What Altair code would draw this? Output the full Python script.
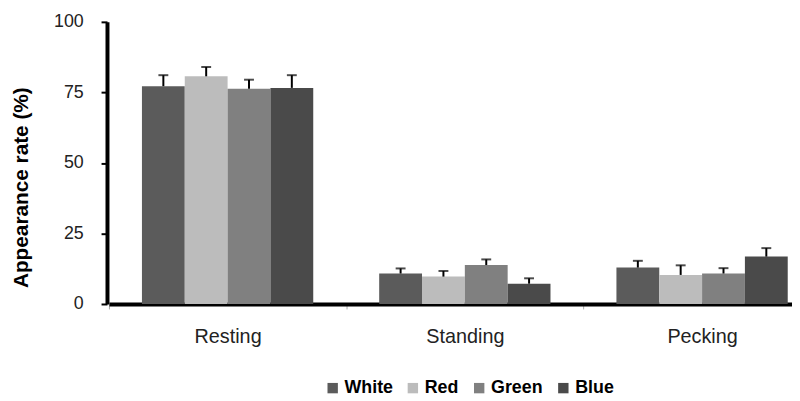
import altair as alt
import pandas as pd

behaviors = ["Resting", "Standing", "Pecking"]
lights = ["White", "Red", "Green", "Blue"]
palette = ["#5b5b5b", "#bcbcbc", "#808080", "#4a4a4a"]

resting = [77.2, 80.7, 76.3, 76.6]
resting_err = [3.9, 3.3, 3.2, 4.5]
standing = [10.8, 9.7, 13.8, 7.2]
standing_err = [1.8, 2.0, 2.0, 1.9]
pecking = [12.9, 10.3, 10.8, 16.8]
pecking_err = [2.4, 3.4, 1.9, 3.0]

rows = []
for b, vals, errs in zip(behaviors, [resting, standing, pecking],
                         [resting_err, standing_err, pecking_err]):
    for l, v, e in zip(lights, vals, errs):
        rows.append({"behavior": b, "light": l, "value": v, "err": e, "top": v + e})
df = pd.DataFrame(rows)

FONT = "Liberation Sans"

x_enc = alt.X(
    "behavior:N", sort=behaviors, title=None,
    scale=alt.Scale(range=[2, 721], paddingInner=0, paddingOuter=0),
    axis=alt.Axis(labelAngle=0, labelFont=FONT, labelFontSize=20, labelColor="#222222",
                  labelPadding=18, domainColor="black", domainWidth=4,
                  tickBand="extent", tickSize=5, tickColor="#aaaaaa", tickWidth=1,
                  grid=False),
)
xo_enc = alt.XOffset("light:N", sort=lights,
                     scale=alt.Scale(paddingOuter=0.77, paddingInner=0))

base = alt.Chart(df).encode(x=x_enc, xOffset=xo_enc)

bars = base.mark_bar().encode(
    y=alt.Y("value:Q", scale=alt.Scale(domain=[0, 100]),
            axis=alt.Axis(values=[0, 25, 50, 75, 100], grid=False,
                          domainColor="black", domainWidth=4,
                          tickColor="black", tickWidth=2, tickSize=6,
                          labelFont=FONT, labelFontSize=18, labelColor="#222222",
                          labelPadding=18,
                          title="Appearance rate (%)", titleFont=FONT,
                          titleFontSize=21, titleFontWeight="bold", titleColor="black",
                          titleAngle=270, titleX=-86, titleY=167,
                          titleAlign="center", titleBaseline="middle")),
    color=alt.Color("light:N", sort=lights, title=None,
                    scale=alt.Scale(domain=lights, range=palette),
                    legend=alt.Legend(orient="none", legendX=219, legendY=361,
                                      direction="horizontal", symbolType="square",
                                      symbolSize=110, symbolStrokeWidth=0,
                                      labelFont=FONT, labelFontSize=18,
                                      labelFontWeight="bold", labelColor="black",
                                      labelOffset=3, columnPadding=11, padding=0)),
)

rules = base.mark_rule(color="black", strokeWidth=2).encode(
    y=alt.Y("value:Q"), y2=alt.Y2("top:Q"))
caps = base.mark_tick(color="black", size=10, thickness=2).encode(y=alt.Y("top:Q"))

chart = alt.layer(bars, rules, caps).properties(
    width=684, height=285,
    padding={"left": 100, "top": 12, "right": 8, "bottom": 96},
    autosize=alt.AutoSizeParams(type="none"),
).configure_view(stroke=None)

chart.save("out.html", embed_options={"renderer": "svg", "actions": False})
